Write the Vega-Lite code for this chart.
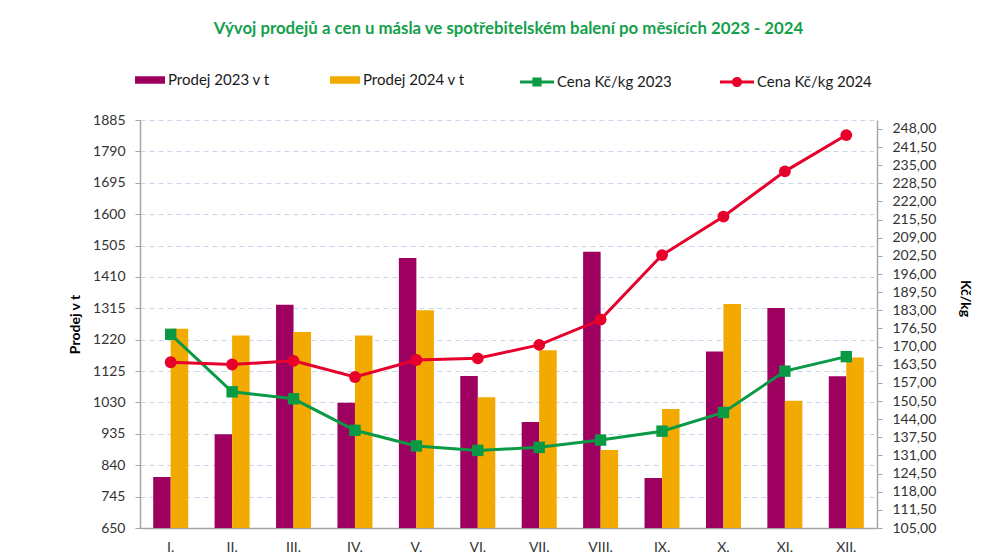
{
  "$schema": "https://vega.github.io/schema/vega-lite/v6.json",
  "autosize": {"type": "none"},
  "width": 737,
  "height": 408,
  "padding": {"left": 140, "top": 120, "right": 114, "bottom": 30},
  "background": "white",
  "config": {
    "font": "Lato",
    "view": {"stroke": null},
    "axis": {"labelFont": "Lato", "labelFontSize": 14, "labelColor": "#333333", "titleFont": "Lato"},
    "legend": {"labelFont": "Lato", "labelFontSize": 15, "labelColor": "#1a1a1a"}
  },
  "title": {
    "text": "Vývoj prodejů a cen u másla ve spotřebitelském balení po měsících 2023 - 2024",
    "font": "Lato",
    "fontSize": 16.8,
    "fontWeight": "bold",
    "color": "#14a04b",
    "anchor": "middle",
    "offset": 27
  },
  "datasets": {
    "prodej": [
      {"m": "I.", "s": "Prodej 2023 v t", "v": 804},
      {"m": "II.", "s": "Prodej 2023 v t", "v": 934},
      {"m": "III.", "s": "Prodej 2023 v t", "v": 1326},
      {"m": "IV.", "s": "Prodej 2023 v t", "v": 1029},
      {"m": "V.", "s": "Prodej 2023 v t", "v": 1467},
      {"m": "VI.", "s": "Prodej 2023 v t", "v": 1110},
      {"m": "VII.", "s": "Prodej 2023 v t", "v": 971},
      {"m": "VIII.", "s": "Prodej 2023 v t", "v": 1486},
      {"m": "IX.", "s": "Prodej 2023 v t", "v": 801},
      {"m": "X.", "s": "Prodej 2023 v t", "v": 1184},
      {"m": "XI.", "s": "Prodej 2023 v t", "v": 1316},
      {"m": "XII.", "s": "Prodej 2023 v t", "v": 1109},
      {"m": "I.", "s": "Prodej 2024 v t", "v": 1253},
      {"m": "II.", "s": "Prodej 2024 v t", "v": 1233},
      {"m": "III.", "s": "Prodej 2024 v t", "v": 1243},
      {"m": "IV.", "s": "Prodej 2024 v t", "v": 1233},
      {"m": "V.", "s": "Prodej 2024 v t", "v": 1309},
      {"m": "VI.", "s": "Prodej 2024 v t", "v": 1046},
      {"m": "VII.", "s": "Prodej 2024 v t", "v": 1188},
      {"m": "VIII.", "s": "Prodej 2024 v t", "v": 886},
      {"m": "IX.", "s": "Prodej 2024 v t", "v": 1010},
      {"m": "X.", "s": "Prodej 2024 v t", "v": 1328},
      {"m": "XI.", "s": "Prodej 2024 v t", "v": 1035},
      {"m": "XII.", "s": "Prodej 2024 v t", "v": 1166}
    ],
    "cena": [
      {"m": "I.", "s": "Cena Kč/kg 2023", "v": 174.4},
      {"m": "II.", "s": "Cena Kč/kg 2023", "v": 153.8},
      {"m": "III.", "s": "Cena Kč/kg 2023", "v": 151.3},
      {"m": "IV.", "s": "Cena Kč/kg 2023", "v": 140.0},
      {"m": "V.", "s": "Cena Kč/kg 2023", "v": 134.4},
      {"m": "VI.", "s": "Cena Kč/kg 2023", "v": 132.8},
      {"m": "VII.", "s": "Cena Kč/kg 2023", "v": 133.9},
      {"m": "VIII.", "s": "Cena Kč/kg 2023", "v": 136.5},
      {"m": "IX.", "s": "Cena Kč/kg 2023", "v": 139.7},
      {"m": "X.", "s": "Cena Kč/kg 2023", "v": 146.4},
      {"m": "XI.", "s": "Cena Kč/kg 2023", "v": 161.2},
      {"m": "XII.", "s": "Cena Kč/kg 2023", "v": 166.4},
      {"m": "I.", "s": "Cena Kč/kg 2024", "v": 164.4},
      {"m": "II.", "s": "Cena Kč/kg 2024", "v": 163.6},
      {"m": "III.", "s": "Cena Kč/kg 2024", "v": 164.9},
      {"m": "IV.", "s": "Cena Kč/kg 2024", "v": 159.1},
      {"m": "V.", "s": "Cena Kč/kg 2024", "v": 165.2},
      {"m": "VI.", "s": "Cena Kč/kg 2024", "v": 165.8},
      {"m": "VII.", "s": "Cena Kč/kg 2024", "v": 170.6},
      {"m": "VIII.", "s": "Cena Kč/kg 2024", "v": 179.7},
      {"m": "IX.", "s": "Cena Kč/kg 2024", "v": 202.8},
      {"m": "X.", "s": "Cena Kč/kg 2024", "v": 216.6},
      {"m": "XI.", "s": "Cena Kč/kg 2024", "v": 232.8},
      {"m": "XII.", "s": "Cena Kč/kg 2024", "v": 245.8}
    ]
  },
  "encoding": {
    "x": {
      "field": "m",
      "type": "ordinal",
      "sort": ["I.", "II.", "III.", "IV.", "V.", "VI.", "VII.", "VIII.", "IX.", "X.", "XI.", "XII."],
      "scale": {"paddingInner": 0.43, "paddingOuter": 0.215},
      "axis": {
        "title": null,
        "labelAngle": 0,
        "labelPadding": 12,
        "ticks": false,
        "domainColor": "#a6a6a6",
        "domainWidth": 1.5
      }
    }
  },
  "layer": [
    {
      "data": {"name": "prodej"},
      "mark": {"type": "bar", "clip": true},
      "encoding": {
        "xOffset": {"field": "s", "sort": ["Prodej 2023 v t", "Prodej 2024 v t"]},
        "y": {
          "field": "v",
          "type": "quantitative",
          "scale": {"domain": [650, 1885], "zero": false, "nice": false},
          "axis": {
            "title": "Prodej v t",
            "titleFontSize": 14,
            "titleFontWeight": "bold",
            "titleColor": "#000000",
            "titlePadding": 10,
            "values": [650, 745, 840, 935, 1030, 1125, 1220, 1315, 1410, 1505, 1600, 1695, 1790, 1885],
            "format": "d",
            "labelPadding": 10,
            "tickSize": 5,
            "tickColor": "#a6a6a6",
            "domainColor": "#a6a6a6",
            "domainWidth": 1.5,
            "grid": true,
            "gridColor": "#c9d5ea",
            "gridDash": [5, 4],
            "gridWidth": 1
          }
        },
        "fill": {
          "field": "s",
          "type": "nominal",
          "scale": {"domain": ["Prodej 2023 v t", "Prodej 2024 v t"], "range": ["#9e0060", "#f2a900"]},
          "legend": {
            "orient": "none",
            "legendX": -5,
            "legendY": -55,
            "direction": "horizontal",
            "title": null,
            "symbolType": "M-1,-0.25H1V0.25H-1Z",
            "symbolSize": 900,
            "symbolStrokeWidth": 0,
            "labelOffset": 3,
            "columnPadding": 60
          }
        }
      }
    },
    {
      "data": {"name": "cena"},
      "encoding": {
        "y": {
          "field": "v",
          "type": "quantitative",
          "scale": {"domain": [105, 251.2], "zero": false, "nice": false},
          "axis": {
            "orient": "right",
            "title": "Kč/kg",
            "titleFontSize": 14,
            "titleFontWeight": "bold",
            "titleColor": "#000000",
            "titlePadding": 22,
            "titleY": 178,
            "values": [105, 111.5, 118, 124.5, 131, 137.5, 144, 150.5, 157, 163.5, 170, 176.5, 183, 189.5, 196, 202.5, 209, 215.5, 222, 228.5, 235, 241.5, 248],
            "labelExpr": "replace(format(datum.value, '.2f'), '.', ',')",
            "labelPadding": 10,
            "tickSize": 5,
            "tickColor": "#a6a6a6",
            "domainColor": "#a6a6a6",
            "domainWidth": 1.5,
            "grid": false
          }
        },
        "color": {
          "field": "s",
          "type": "nominal",
          "scale": {"domain": ["Cena Kč/kg 2023", "Cena Kč/kg 2024"], "range": ["#0a9a45", "#e6002b"]},
          "legend": {
            "orient": "none",
            "legendX": 380,
            "legendY": -55,
            "direction": "horizontal",
            "title": null,
            "symbolSize": 1156,
            "labelOffset": 3,
            "columnPadding": 48,
            "encode": {
              "symbols": {
                "update": {
                  "shape": {"signal": "datum.value === 'Cena Kč/kg 2023' ? 'M-1,-0.09H1V0.09H-1Z M-0.27,-0.27H0.27V0.27H-0.27Z' : 'M-1,-0.09H1V0.09H-1Z M-0.3,0A0.3,0.3 0 1,1 0.3,0A0.3,0.3 0 1,1 -0.3,0Z'"},
                  "fill": {"scale": "color", "field": "value"},
                  "strokeWidth": {"value": 0}
                }
              }
            }
          }
        }
      },
      "layer": [
        {
          "mark": {"type": "line", "strokeWidth": 3}
        },
        {
          "transform": [{"filter": "datum.s === 'Cena Kč/kg 2023'"}],
          "mark": {"type": "point", "shape": "square", "filled": true, "size": 130, "opacity": 1}
        },
        {
          "transform": [{"filter": "datum.s === 'Cena Kč/kg 2024'"}],
          "mark": {"type": "point", "shape": "circle", "filled": true, "size": 140, "opacity": 1}
        }
      ]
    }
  ],
  "resolve": {"scale": {"y": "independent"}}
}
